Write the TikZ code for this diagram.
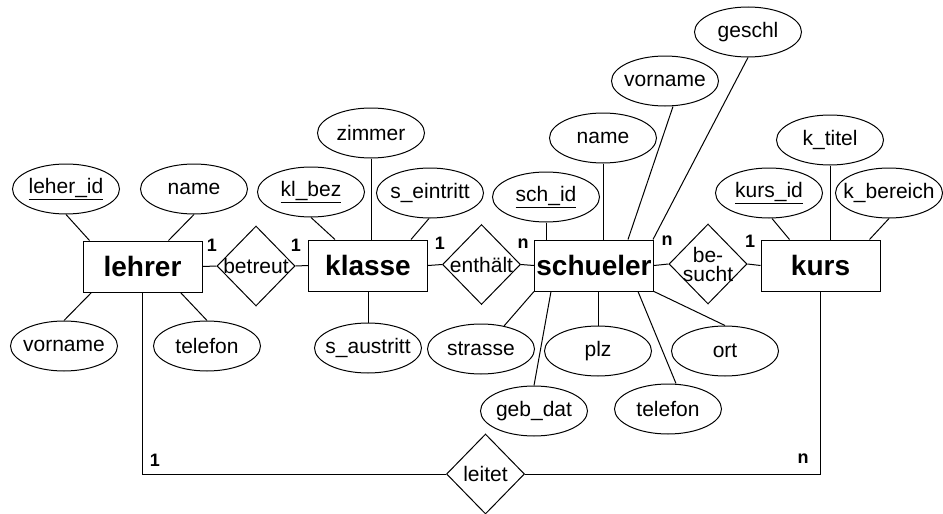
\documentclass[tikz,border=0pt]{standalone}
\usepackage{fontspec}
\setmainfont{Liberation Sans}
\usetikzlibrary{shapes.geometric}
\tikzset{
  entity/.style={draw, rectangle, minimum width=119pt, minimum height=51pt, inner sep=0pt, font=\fontsize{28}{30}\selectfont\bfseries},
  attr/.style={draw, ellipse, minimum width=107pt, minimum height=50pt, inner xsep=-12pt, inner ysep=-2pt, font=\fontsize{21}{23}\selectfont},
  rel/.style={draw, diamond, minimum width=78pt, minimum height=80pt, inner sep=-12pt, font=\fontsize{21}{19}\selectfont, align=center},
  card/.style={font=\fontsize{18}{18}\selectfont\bfseries, inner sep=0pt}
}
\begin{document}
\begin{tikzpicture}[x=1pt,y=-1pt, line width=1pt]
\path[use as bounding box] (0,0) rectangle (943,514);

% entities
\node[entity] (lehrer) at (142.5,266.5) {lehrer};
\node[entity] (klasse) at (368,265.5) {klasse};
\node[entity] (schueler) at (594,265.5) {schueler};
\node[entity] (kurs) at (820.5,265.5) {kurs};

% relationships
\node[rel] (betreut) at (256,266) {betreut};
\node[rel] (enth) at (481.5,264.5) {enthält};
\node[rel] (besucht) at (708,264) {be-\\sucht};
\node[rel] (leitet) at (485.5,474) {leitet};

% lehrer attributes
\node[attr] (lid) at (66,189) {\underline{leher\_id}};
\node[attr] (lname) at (194,189) {name};
\node[attr] (lvor) at (64,346) {vorname};
\node[attr] (ltel) at (207,346) {telefon};

% klasse attributes
\node[attr] (klbez) at (311,192) {\underline{kl\_bez}};
\node[attr] (zimmer) at (371,133) {zimmer};
\node[attr] (sein) at (430,193) {s\_eintritt};
\node[attr] (saus) at (368,348) {s\_austritt};

% schueler attributes
\node[attr] (schid) at (546,197) {\underline{sch\_id}};
\node[attr] (sname) at (603,138) {name};
\node[attr] (svor) at (665,81) {vorname};
\node[attr] (geschl) at (748,32) {geschl};
\node[attr] (strasse) at (481,349) {strasse};
\node[attr] (plz) at (598,351) {plz};
\node[attr] (ort) at (725,351) {ort};
\node[attr] (gebdat) at (534,411) {geb\_dat};
\node[attr] (stel) at (668,409) {telefon};

% kurs attributes
\node[attr] (kid) at (769,193) {\underline{kurs\_id}};
\node[attr] (ktitel) at (830,140) {k\_titel};
\node[attr] (kber) at (889,193) {k\_bereich};

% attribute connectors
\draw (lid.south) -- ([xshift=7pt]lehrer.north west);
\draw (lname.south) -- ([xshift=-34pt]lehrer.north east);
\draw ([xshift=9pt]lehrer.south west) -- (lvor.north);
\draw ([xshift=-22pt]lehrer.south east) -- (ltel.north);

\draw (klbez.south) -- ([xshift=27pt]klasse.north west);
\draw (zimmer.south) -- (zimmer.south |- klasse.north);
\draw ([xshift=-1pt]sein.south) -- ([xshift=-17pt]klasse.north east);
\draw (klasse.south) -- (saus.north);

\draw (schid.south) -- (schid.south |- schueler.north);
\draw (sname.south) -- (sname.south |- schueler.north);
\draw ([xshift=8pt]svor.south) -- ([xshift=-26pt]schueler.north east);
\draw (geschl.south) -- ([xshift=-1pt]schueler.north east);
\draw (strasse.45) -- (schueler.south west);
\draw ([xshift=17pt]schueler.south west) -- (gebdat.north);
\draw (plz.north) -- (plz.north |- schueler.south);
\draw ([xshift=-16pt]schueler.south east) -- ([xshift=8pt]stel.north);
\draw (schueler.south east) -- (ort.north);

\draw ([xshift=3pt]kid.south) -- ([xshift=29pt]kurs.north west);
\draw (ktitel.south) -- (ktitel.south |- kurs.north);
\draw (kber.south) -- ([xshift=-11pt]kurs.north east);

% relationship connectors
\draw (lehrer.east) -- (betreut.west);
\draw (betreut.east) -- (klasse.west);
\draw (klasse.east) -- (enth.west);
\draw (enth.east) -- (schueler.west);
\draw (schueler.east) -- (besucht.west);
\draw (besucht.east) -- (kurs.west);
\draw (lehrer.south) |- (leitet.west);
\draw (kurs.south) |- (leitet.east);

% cardinalities
\node[card] (c1) at (212,245) {1};
\node[card] (c2) at (296,245) {1};
\node[card] (c3) at (440,243) {1};
\node[card] (c4) at (523,244) {n};
\node[card] (c5) at (667,241) {n};
\node[card] (c6) at (750,241) {1};
\node[card] (c7) at (155,460) {1};
\node[card] (c8) at (803,459) {n};
\end{tikzpicture}
\end{document}
